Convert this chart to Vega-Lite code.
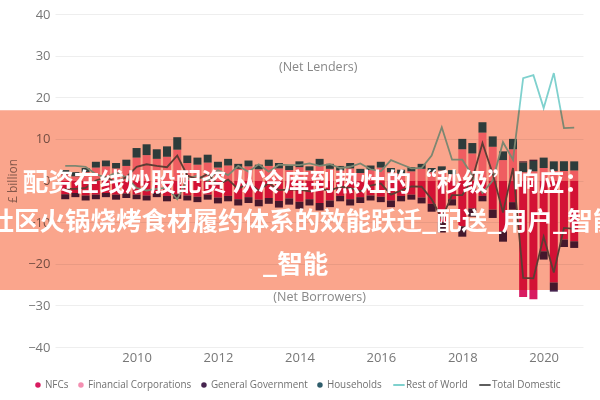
{
  "$schema": "https://vega.github.io/schema/vega-lite/v6.json",
  "width": 528,
  "height": 333,
  "autosize": {"type": "none"},
  "padding": {"left": 55, "top": 14, "right": 17, "bottom": 53},
  "background": "white",
  "config": {
    "view": {"stroke": null},
    "font": "Open Sans",
    "axis": {"labelColor": "#777777", "labelFontSize": 13, "ticks": false, "domain": false, "titleColor": "#888888", "titleFontWeight": "normal"},
    "legend": {"labelColor": "#707070", "labelFontSize": 9.9, "labelFont": "Open Sans"}
  },
  "data": {
    "values": [
      {"quarter": "2008-04-01", "NFCs": -3.3, "Financial Corporations": 1.5, "Households": 1.0, "General Government": -1.2, "Rest of World": 3.5, "Total Domestic": -2.0},
      {"quarter": "2008-07-01", "NFCs": -3.0, "Financial Corporations": 1.0, "Households": 1.0, "General Government": -1.0, "Rest of World": 3.5, "Total Domestic": -2.0},
      {"quarter": "2008-10-01", "NFCs": -3.6, "Financial Corporations": 2.0, "Households": 1.0, "General Government": -1.2, "Rest of World": 3.3, "Total Domestic": -1.8},
      {"quarter": "2009-01-01", "NFCs": -3.4, "Financial Corporations": 3.1, "Households": 1.4, "General Government": -1.1, "Rest of World": 1.5, "Total Domestic": 0.0},
      {"quarter": "2009-04-01", "NFCs": -3.0, "Financial Corporations": 3.4, "Households": 1.4, "General Government": -1.0, "Rest of World": 0.7, "Total Domestic": 0.8},
      {"quarter": "2009-07-01", "NFCs": -3.4, "Financial Corporations": 2.9, "Households": 1.3, "General Government": -1.2, "Rest of World": 1.9, "Total Domestic": -0.4},
      {"quarter": "2009-10-01", "NFCs": -3.1, "Financial Corporations": 3.5, "Households": 1.5, "General Government": -1.1, "Rest of World": 0.7, "Total Domestic": 0.8},
      {"quarter": "2010-01-01", "NFCs": -3.4, "Financial Corporations": 5.5, "Households": 2.3, "General Government": -1.1, "Rest of World": -1.8, "Total Domestic": 3.3},
      {"quarter": "2010-04-01", "NFCs": -3.6, "Financial Corporations": 6.1, "Households": 2.6, "General Government": -1.2, "Rest of World": -2.4, "Total Domestic": 3.9},
      {"quarter": "2010-07-01", "NFCs": -3.0, "Financial Corporations": 5.2, "Households": 2.3, "General Government": -1.0, "Rest of World": -2.0, "Total Domestic": 3.5},
      {"quarter": "2010-10-01", "NFCs": -3.7, "Financial Corporations": 5.7, "Households": 2.5, "General Government": -1.3, "Rest of World": -1.7, "Total Domestic": 3.2},
      {"quarter": "2011-01-01", "NFCs": -3.3, "Financial Corporations": 7.4, "Households": 3.0, "General Government": -1.1, "Rest of World": -4.5, "Total Domestic": 6.0},
      {"quarter": "2011-04-01", "NFCs": -3.6, "Financial Corporations": 4.2, "Households": 1.8, "General Government": -1.2, "Rest of World": 0.3, "Total Domestic": 1.2},
      {"quarter": "2011-07-01", "NFCs": -3.9, "Financial Corporations": 3.8, "Households": 1.7, "General Government": -1.3, "Rest of World": 1.2, "Total Domestic": 0.3},
      {"quarter": "2011-10-01", "NFCs": -3.4, "Financial Corporations": 4.3, "Households": 1.9, "General Government": -1.2, "Rest of World": -0.1, "Total Domestic": 1.6},
      {"quarter": "2012-01-01", "NFCs": -4.1, "Financial Corporations": 3.1, "Households": 1.4, "General Government": -1.4, "Rest of World": 2.5, "Total Domestic": -1.0},
      {"quarter": "2012-04-01", "NFCs": -3.7, "Financial Corporations": 3.6, "Households": 1.6, "General Government": -1.3, "Rest of World": 1.3, "Total Domestic": 0.2},
      {"quarter": "2012-07-01", "NFCs": -4.5, "Financial Corporations": 2.8, "Households": 1.2, "General Government": -1.5, "Rest of World": 3.5, "Total Domestic": -2.0},
      {"quarter": "2012-10-01", "NFCs": -4.0, "Financial Corporations": 3.4, "Households": 1.4, "General Government": -1.4, "Rest of World": 2.1, "Total Domestic": -0.6},
      {"quarter": "2013-01-01", "NFCs": -4.6, "Financial Corporations": 2.7, "Households": 1.1, "General Government": -1.6, "Rest of World": 3.9, "Total Domestic": -2.4},
      {"quarter": "2013-04-01", "NFCs": -4.2, "Financial Corporations": 3.5, "Households": 1.5, "General Government": -1.4, "Rest of World": 2.1, "Total Domestic": -0.6},
      {"quarter": "2013-07-01", "NFCs": -4.9, "Financial Corporations": 2.9, "Households": 1.3, "General Government": -1.6, "Rest of World": 3.8, "Total Domestic": -2.3},
      {"quarter": "2013-10-01", "NFCs": -4.3, "Financial Corporations": 2.5, "Households": 1.1, "General Government": -1.5, "Rest of World": 3.7, "Total Domestic": -2.2},
      {"quarter": "2014-01-01", "NFCs": -5.1, "Financial Corporations": 3.2, "Households": 1.4, "General Government": -1.7, "Rest of World": 3.7, "Total Domestic": -2.2},
      {"quarter": "2014-04-01", "NFCs": -4.5, "Financial Corporations": 2.4, "Households": 1.0, "General Government": -1.5, "Rest of World": 4.1, "Total Domestic": -2.6},
      {"quarter": "2014-07-01", "NFCs": -5.4, "Financial Corporations": 3.6, "Households": 1.6, "General Government": -1.8, "Rest of World": 3.5, "Total Domestic": -2.0},
      {"quarter": "2014-10-01", "NFCs": -4.8, "Financial Corporations": 2.8, "Households": 1.2, "General Government": -1.6, "Rest of World": 3.9, "Total Domestic": -2.4},
      {"quarter": "2015-01-01", "NFCs": -3.7, "Financial Corporations": 2.4, "Households": 1.1, "General Government": -1.3, "Rest of World": 3.0, "Total Domestic": -1.5},
      {"quarter": "2015-04-01", "NFCs": -4.5, "Financial Corporations": 2.9, "Households": 1.3, "General Government": -1.5, "Rest of World": 3.3, "Total Domestic": -1.8},
      {"quarter": "2015-07-01", "NFCs": -4.0, "Financial Corporations": 1.8, "Households": 1.0, "General Government": -1.4, "Rest of World": 4.1, "Total Domestic": -2.6},
      {"quarter": "2015-10-01", "NFCs": -3.6, "Financial Corporations": 2.5, "Households": 1.1, "General Government": -1.2, "Rest of World": 2.7, "Total Domestic": -1.2},
      {"quarter": "2016-01-01", "NFCs": -3.9, "Financial Corporations": 3.1, "Households": 1.4, "General Government": -1.3, "Rest of World": 2.2, "Total Domestic": -0.7},
      {"quarter": "2016-04-01", "NFCs": -4.8, "Financial Corporations": 2.0, "Households": 1.0, "General Government": -1.6, "Rest of World": 4.9, "Total Domestic": -3.4},
      {"quarter": "2016-07-01", "NFCs": -3.7, "Financial Corporations": 1.6, "Households": 1.0, "General Government": -1.3, "Rest of World": 3.9, "Total Domestic": -2.4},
      {"quarter": "2016-10-01", "NFCs": -3.4, "Financial Corporations": 2.2, "Households": 1.0, "General Government": -1.2, "Rest of World": 2.9, "Total Domestic": -1.4},
      {"quarter": "2017-01-01", "NFCs": -4.1, "Financial Corporations": 2.8, "Households": 1.2, "General Government": -1.4, "Rest of World": 3.0, "Total Domestic": -1.5},
      {"quarter": "2017-04-01", "NFCs": -5.6, "Financial Corporations": 2.0, "Households": 1.0, "General Government": -1.9, "Rest of World": 6.0, "Total Domestic": -4.5},
      {"quarter": "2017-07-01", "NFCs": -10.0, "Financial Corporations": 2.4, "Households": 1.0, "General Government": -2.5, "Rest of World": 12.8, "Total Domestic": -9.1},
      {"quarter": "2017-10-01", "NFCs": -4.5, "Financial Corporations": 1.5, "Households": 1.0, "General Government": -1.5, "Rest of World": 5.0, "Total Domestic": -3.5},
      {"quarter": "2018-01-01", "NFCs": -11.0, "Financial Corporations": 7.5, "Households": 2.5, "General Government": -2.5, "Rest of World": 5.0, "Total Domestic": -3.5},
      {"quarter": "2018-04-01", "NFCs": -6.7, "Financial Corporations": 6.5, "Households": 2.5, "General Government": -2.0, "Rest of World": 1.2, "Total Domestic": 0.3},
      {"quarter": "2018-07-01", "NFCs": -3.7, "Financial Corporations": 11.5, "Households": 2.5, "General Government": -1.3, "Rest of World": -3.0, "Total Domestic": 9.0},
      {"quarter": "2018-10-01", "NFCs": -7.0, "Financial Corporations": 8.1, "Households": 2.5, "General Government": -2.0, "Rest of World": 0.0, "Total Domestic": 1.6},
      {"quarter": "2019-01-01", "NFCs": -12.2, "Financial Corporations": 4.9, "Households": 2.1, "General Government": -2.5, "Rest of World": 9.2, "Total Domestic": -7.7},
      {"quarter": "2019-04-01", "NFCs": -5.2, "Financial Corporations": 7.5, "Households": 2.5, "General Government": -1.8, "Rest of World": 5.0, "Total Domestic": 3.0},
      {"quarter": "2019-07-01", "NFCs": -28.0, "Financial Corporations": 2.0, "Households": 2.3, "General Government": 0.3, "Rest of World": 24.6, "Total Domestic": -23.4},
      {"quarter": "2019-10-01", "NFCs": -28.5, "Financial Corporations": 2.2, "Households": 2.5, "General Government": 0.3, "Rest of World": 25.3, "Total Domestic": -23.5},
      {"quarter": "2020-01-01", "NFCs": -17.0, "Financial Corporations": 3.0, "Households": 2.5, "General Government": -2.0, "Rest of World": 17.4, "Total Domestic": -13.5},
      {"quarter": "2020-04-01", "NFCs": -24.5, "Financial Corporations": 2.3, "Households": 2.3, "General Government": -2.2, "Rest of World": 25.8, "Total Domestic": -22.1},
      {"quarter": "2020-07-01", "NFCs": -14.2, "Financial Corporations": 2.3, "Households": 2.3, "General Government": -1.8, "Rest of World": 12.6, "Total Domestic": -11.4},
      {"quarter": "2020-10-01", "NFCs": -14.6, "Financial Corporations": 2.4, "Households": 2.2, "General Government": -1.6, "Rest of World": 12.7, "Total Domestic": -11.6}
    ]
  },
  "transform": [
    {"fold": ["NFCs", "Financial Corporations", "General Government", "Households", "Rest of World", "Total Domestic"], "as": ["series", "value"]}
  ],
  "layer": [
    {
      "transform": [
        {"filter": "datum.series !== 'Rest of World' && datum.series !== 'Total Domestic'"},
        {"calculate": "indexof(['NFCs','Financial Corporations','Households','General Government'], datum.series)", "as": "ord"}
      ],
      "mark": {"type": "bar", "size": 8},
      "encoding": {
        "x": {
          "field": "quarter", "type": "temporal",
          "scale": {"type": "utc", "domain": [{"year": 2008, "month": 2, "date": 14, "utc": true}, {"year": 2020, "month": 11, "date": 4, "utc": true}]},
          "axis": {"title": null, "grid": false, "format": "%Y", "labelPadding": 4,
                   "values": [{"year": 2010, "utc": true}, {"year": 2012, "utc": true}, {"year": 2014, "utc": true}, {"year": 2016, "utc": true}, {"year": 2018, "utc": true}, {"year": 2020, "utc": true}]}
        },
        "y": {
          "field": "value", "type": "quantitative", "stack": "zero",
          "scale": {"domain": [-40, 40], "nice": false},
          "axis": {"title": "£ billion", "titleFontSize": 12, "titlePadding": 8, "grid": true, "gridColor": "#eeeeee", "values": [-40, -30, -20, -10, 0, 10, 20, 30, 40], "labelPadding": 5}
        },
        "color": {
          "field": "series", "type": "nominal",
          "scale": {
            "domain": ["NFCs", "Financial Corporations", "General Government", "Households", "Rest of World", "Total Domestic"],
            "range": ["#D81B60", "#F48FB1", "#46244F", "#2F5D6B", "#7FD1CE", "#5E5E5E"]
          },
          "legend": {
            "title": null, "orient": "none", "legendX": -22, "legendY": 366, "direction": "horizontal", "columns": 6, "columnPadding": 7, "labelOffset": 2,
            "symbolType": "circle",
            "encode": {"symbols": {"update": {
              "shape": {"signal": "indexof(['Rest of World','Total Domestic'], datum.value) >= 0 ? 'stroke' : 'circle'"},
              "size": {"signal": "indexof(['Rest of World','Total Domestic'], datum.value) >= 0 ? 130 : 30"},
              "strokeWidth": {"signal": "indexof(['Rest of World','Total Domestic'], datum.value) >= 0 ? 2 : 0"},
              "fill": {"scale": "color", "field": "value"},
              "stroke": {"scale": "color", "field": "value"},
              "opacity": {"value": 1}
            }}}
          }
        },
        "order": {"field": "ord", "type": "quantitative"}
      }
    },
    {
      "transform": [{"filter": "datum.series === 'Rest of World' || datum.series === 'Total Domestic'"}],
      "mark": {"type": "line", "strokeWidth": 1.8},
      "encoding": {
        "x": {"field": "quarter", "type": "temporal"},
        "y": {"field": "value", "type": "quantitative"},
        "color": {"field": "series", "type": "nominal"}
      }
    },
    {
      "data": {"values": [{}]},
      "mark": {"type": "rect", "color": "#FAA58C", "blend": "multiply"},
      "encoding": {
        "x": {"datum": {"year": 2006, "month": 1, "utc": true}, "type": "temporal"},
        "x2": {"datum": {"year": 2022, "month": 6, "utc": true}},
        "y": {"datum": 16.9, "type": "quantitative"},
        "y2": {"datum": -26.3}
      }
    },
    {
      "data": {"values": [{}]},
      "mark": {"type": "text", "text": "配资在线炒股配资 从冷库到热灶的“秒级”响应：", "color": "white", "font": "Noto Sans CJK SC", "fontWeight": "bold", "fontSize": 25.5, "align": "center", "baseline": "middle"},
      "encoding": {
        "x": {"datum": {"year": 2014, "month": 3, "date": 3, "utc": true}, "type": "temporal"},
        "y": {"datum": -0.6, "type": "quantitative"}
      }
    },
    {
      "data": {"values": [{}]},
      "mark": {"type": "text", "text": "社区火锅烧烤食材履约体系的效能跃迁_配送_用户_智能", "color": "white", "font": "Noto Sans CJK SC", "fontWeight": "bold", "fontSize": 25.5, "align": "center", "baseline": "middle"},
      "encoding": {
        "x": {"datum": {"year": 2014, "month": 2, "date": 5, "utc": true}, "type": "temporal"},
        "y": {"datum": -10.0, "type": "quantitative"}
      }
    },
    {
      "data": {"values": [{}]},
      "mark": {"type": "text", "text": "_智能", "color": "white", "font": "Noto Sans CJK SC", "fontWeight": "bold", "fontSize": 25.5, "align": "center", "baseline": "middle"},
      "encoding": {
        "x": {"datum": {"year": 2013, "month": 11, "date": 26, "utc": true}, "type": "temporal"},
        "y": {"datum": -20.3, "type": "quantitative"}
      }
    },
    {
      "data": {"values": [{}]},
      "mark": {"type": "text", "text": "(Net Lenders)", "color": "#888888", "font": "Open Sans", "fontSize": 12.5, "align": "center", "baseline": "middle"},
      "encoding": {
        "x": {"datum": {"year": 2014, "month": 6, "date": 18, "utc": true}, "type": "temporal"},
        "y": {"datum": 27.3, "type": "quantitative"}
      }
    },
    {
      "data": {"values": [{}]},
      "mark": {"type": "text", "text": "(Net Borrowers)", "color": "#888888", "font": "Open Sans", "fontSize": 12.5, "align": "center", "baseline": "middle"},
      "encoding": {
        "x": {"datum": {"year": 2014, "month": 7, "date": 1, "utc": true}, "type": "temporal"},
        "y": {"datum": -28.0, "type": "quantitative"}
      }
    }
  ]
}
